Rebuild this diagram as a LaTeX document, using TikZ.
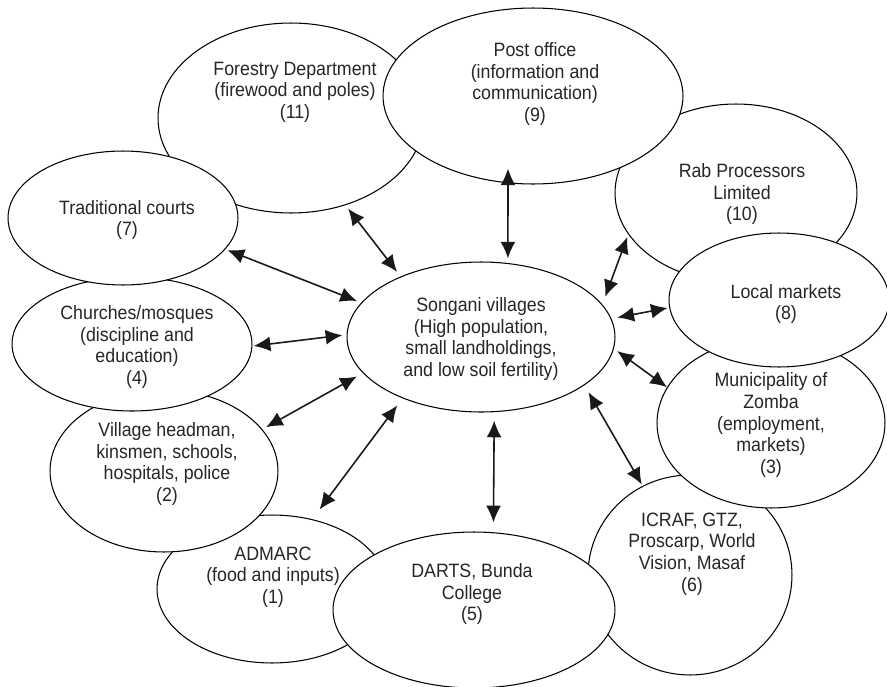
\documentclass[tikz,border=0pt]{standalone}
\usepackage{fontspec}
\setmainfont[FakeStretch=0.92]{Liberation Sans}
\usetikzlibrary{shapes.geometric,arrows.meta}

\tikzstyle{place} = [ellipse, draw=black, fill=white, line width=0.6pt, inner sep=0pt]
\tikzstyle{words} = [align=center, inner sep=0pt, text=black!85, font=\fontsize{11pt}{12.3pt}\selectfont]
\tikzstyle{link} = [{Latex[length=9.5pt,width=8.5pt]}-{Latex[length=9.5pt,width=8.5pt]}, line width=0.9pt, black!90]

\begin{document}
\begin{tikzpicture}[x=0.02cm, y=-0.02cm]
        \useasboundingbox (0,0) rectangle (887,687);

        \node (forestry) [place, minimum width=5.32cm, minimum height=3.80cm] at (291,118) {};
        \node (forestry-txt) [words] at (295,92) {Forestry Department\\(firewood and poles)\\(11)};
        \node (rab) [place, minimum width=4.84cm, minimum height=3.56cm] at (736,193) {};
        \node (rab-txt) [words] at (742,194) {Rab Processors\\Limited\\(10)};
        \node (post) [place, minimum width=6.00cm, minimum height=3.52cm] at (533,96) {};
        \node (post-txt) [words] at (535,84) {Post office\\(information and\\communication)\\(9)};
        \node (icraf) [place, minimum width=4.08cm, minimum height=4.00cm] at (690,575) {};
        \node (icraf-txt) [words] at (692,554) {ICRAF, GTZ,\\Proscarp, World\\Vision, Masaf\\(6)};
        \node (zomba) [place, minimum width=4.56cm, minimum height=3.40cm] at (771,423) {};
        \node (zomba-txt) [words] at (771,425) {Municipality of\\Zomba\\(employment,\\markets)\\(3)};
        \node (local) [place, minimum width=4.40cm, minimum height=2.68cm] at (779,300) {};
        \node (local-txt) [words] at (786,304) {Local markets\\(8)};
        \node (admarc) [place, minimum width=4.60cm, minimum height=2.96cm] at (272,589) {};
        \node (admarc-txt) [words] at (273,577) {ADMARC\\(food and inputs)\\(1)};
        \node (darts) [place, minimum width=5.64cm, minimum height=3.12cm] at (474,610) {};
        \node (darts-txt) [words] at (472,594) {DARTS, Bunda\\College\\(5)};
        \node (village) [place, minimum width=4.56cm, minimum height=3.24cm] at (164,471) {};
        \node (village-txt) [words] at (167,464) {Village headman,\\kinsmen, schools,\\hospitals, police\\(2)};
        \node (churches) [place, minimum width=4.80cm, minimum height=2.68cm] at (132,344) {};
        \node (churches-txt) [words] at (137,347) {Churches/mosques\\(discipline and\\education)\\(4)};
        \node (courts) [place, minimum width=4.60cm, minimum height=2.68cm] at (123,218) {};
        \node (courts-txt) [words] at (127,220) {Traditional courts\\(7)};
        \node (songani) [place, minimum width=5.36cm, minimum height=3.00cm] at (481,337) {};
        \node (songani-txt) [words] at (481,339) {Songani villages\\(High population,\\small landholdings,\\and low soil fertility)};

        \draw [link, shorten <=1.3pt, shorten >=2.6pt] (courts.-17) -- (songani.164);
        \draw [link, shorten <=2.4pt, shorten >=3.3pt] (forestry.-58) -- (songani.143);
        \draw [link, shorten <=-8.4pt, shorten >=2.6pt] (post.-106) -- (songani.70);
        \draw [link, shorten <=1.5pt, shorten >=4.7pt] (rab.-159) -- (songani.15);
        \draw [link, shorten <=0.9pt, shorten >=3.4pt] (local.184) -- (songani.8);
        \draw [link, shorten <=0pt, shorten >=2.3pt] (zomba.161) -- (songani.-5);
        \draw [link, shorten <=0.9pt, shorten >=4.6pt] (icraf.118) -- (songani.-25);
        \draw [link, shorten <=5.6pt, shorten >=4.8pt] (darts.76) -- (songani.-80);
        \draw [link, shorten <=6.9pt, shorten >=5pt] (admarc.60) -- (songani.-142);
        \draw [link, shorten <=2.4pt, shorten >=3.9pt] (village.23) -- (songani.-163);
        \draw [link, shorten <=0.7pt, shorten >=2.4pt] (churches.-1) -- (songani.179);
    \end{tikzpicture}
\end{document}
